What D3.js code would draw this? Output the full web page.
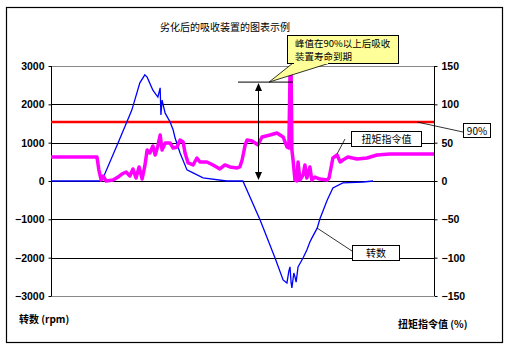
<!DOCTYPE html>
<html>
<head>
<meta charset="utf-8">
<script src="https://cdn.jsdelivr.net/npm/d3@7"></script>
<style>
  body { margin: 0; background: #fff; }
  text { font-family: "Noto Sans CJK SC", "DejaVu Sans", sans-serif; }
  .num { font-family: "Liberation Sans", Arial, sans-serif; font-weight: bold; font-size: 10.5px; }
</style>
</head>
<body>
<div id="chart"></div>
<script>
// rotation speed (rpm), left axis
const speedT = [0, 12.8, 13.6, 17.5, 19.8, 21.1, 23.2, 24.5, 25.1, 26.6, 27.9, 28.5, 28.7, 29.0, 29.8, 31.1, 31.9, 32.4, 33.7, 35.5, 37.1, 39.7, 45.9, 50.1, 54.6, 58.5, 60.6, 61.6, 62.1, 62.4, 62.7, 62.9, 63.4, 63.7, 64.0, 64.5, 65.8, 66.8, 67.6, 68.1, 69.5, 70.2, 72.1, 73.6, 76.2, 81.5, 84.1]
const speedV = [0, 0, 80, 990, 1540, 1850, 2560, 2770, 2710, 2370, 2190, 2430, 1720, 2110, 1770, 1540, 1330, 1120, 730, 290, 210, 80, 0, 0, -1020, -2010, -2580, -2660, -2350, -2240, -2660, -2790, -2400, -2500, -2640, -2240, -2010, -1800, -1590, -1490, -1230, -990, -500, -180, -50, -26, 0]

// torque command (%), right axis
const torqueT = [0, 12.0, 12.5, 13.1, 13.6, 14.4, 16.2, 17.5, 18.5, 19.6, 20.6, 21.4, 22.2, 23.0, 23.8, 24.5, 25.1, 25.8, 26.6, 27.2, 27.9, 28.5, 29.0, 29.8, 31.1, 31.9, 32.9, 33.7, 34.5, 35.0, 35.8, 37.1, 38.1, 38.9, 40.7, 42.3, 44.1, 45.4, 46.7, 48.6, 49.3, 49.9, 50.7, 51.2, 52.5, 53.3, 54.0, 55.1, 57.2, 59.0, 60.6, 61.6, 62.1, 62.4, 62.7, 62.9, 63.2, 63.7, 64.2, 64.5, 65.0, 65.8, 66.3, 66.8, 67.6, 68.1, 68.9, 70.2, 72.1, 72.6, 73.6, 74.7, 75.5, 76.2, 77.5, 79.9, 82.5, 85.1, 88.5, 100]
const torqueV = [31.3, 31.3, 14.3, 1.3, 6.5, 0, 1.3, 5.2, 9.1, 11.7, 6.5, 15.7, 3.9, 18.3, 2.6, 19.6, 40.4, 36.5, 45.7, 33.9, 45.7, 60.0, 40.4, 49.6, 49.6, 43.0, 44.4, 53.5, 50.9, 36.5, 23.5, 20.9, 30.0, 24.8, 24.8, 20.9, 15.7, 20.9, 18.3, 17.0, 18.3, 27.4, 47.0, 53.5, 52.2, 49.6, 47.0, 57.4, 60.0, 62.6, 57.4, 44.4, 43.0, 138, 138, 40.4, 27.4, 1.3, 0, 24.8, 1.3, 7.8, 20.9, 3.9, 18.3, 1.3, 5.2, 2.6, 1.3, 3.9, 30.0, 33.9, 24.8, 27.4, 31.3, 28.7, 30.0, 33.9, 35.2, 35.2]

const leftTicks = [3000, 2000, 1000, 0, -1000, -2000, -3000]
const rightTicks = [150, 100, 50, 0, -50, -100, -150]
const gridValues = [2000, 1000, 0, -1000, -2000]
const limitValue = 77   // 90% line, right axis
const peakValue = 129   // level of the peak marker, right axis

const svg = d3.select("#chart").append("svg")
    .attr("width", 509)
    .attr("height", 354)

const plot = {left: 51, right: 434, top: 66, bottom: 296}

const x = d3.scaleLinear().domain([0, 100]).range([plot.left, plot.right])
const yL = d3.scaleLinear().domain([-3000, 3000]).range([plot.bottom, plot.top])
const yR = d3.scaleLinear().domain([-150, 150]).range([plot.bottom, plot.top])

// outer frame
svg.append("rect")
    .attr("x", 6.5).attr("y", 7.5).attr("width", 496).attr("height", 335)
    .attr("fill", "#fff").attr("stroke", "#000").attr("stroke-width", 1.2)

svg.append("text")
    .attr("x", 225).attr("y", 31)
    .attr("text-anchor", "middle")
    .attr("font-size", 10)
    .text("劣化后的吸收装置的图表示例")

// plot border top/bottom (grey)
svg.append("line").attr("x1", plot.left).attr("x2", plot.right)
    .attr("y1", yL(3000) + 0.5).attr("y2", yL(3000) + 0.5).attr("stroke", "#888")
svg.append("line").attr("x1", plot.left).attr("x2", plot.right)
    .attr("y1", yL(-3000) + 0.5).attr("y2", yL(-3000) + 0.5).attr("stroke", "#888")

// gridlines
svg.append("g").selectAll("line")
    .data(gridValues)
    .join("line")
    .attr("x1", plot.left).attr("x2", plot.right)
    .attr("y1", d => Math.round(yL(d)) + 0.5).attr("y2", d => Math.round(yL(d)) + 0.5)
    .attr("stroke", "#000").attr("stroke-width", 1)

// left axis
const leftAxis = svg.append("g")
    .attr("transform", `translate(${plot.left + 0.5},0)`)
    .call(d3.axisLeft(yL).tickValues(leftTicks).tickSize(3).tickPadding(4).tickFormat(d => d < 0 ? "−" + Math.abs(d) : d))
leftAxis.select(".domain").attr("stroke", "#000").attr("d", `M0,${plot.top}V${plot.bottom}`)
leftAxis.selectAll("text").attr("class", "num").attr("fill", "#000")

// right axis
const rightAxis = svg.append("g")
    .attr("transform", `translate(${plot.right + 0.5},0)`)
    .call(d3.axisRight(yR).tickValues(rightTicks).tickSize(3).tickPadding(4).tickFormat(d => d < 0 ? "−" + Math.abs(d) : d))
rightAxis.select(".domain").attr("stroke", "#000").attr("d", `M0,${plot.top}V${plot.bottom}`)
rightAxis.selectAll("text").attr("class", "num").attr("fill", "#000")

// 90% line
svg.append("line")
    .attr("x1", plot.left).attr("x2", plot.right)
    .attr("y1", yR(limitValue)).attr("y2", yR(limitValue))
    .attr("stroke", "#ff0000").attr("stroke-width", 2.5)

// speed line
const speed = speedT.map((t, i) => [t, speedV[i]])
svg.append("path")
    .datum(speed)
    .attr("fill", "none")
    .attr("stroke", "#0000ff")
    .attr("stroke-width", 1.3)
    .attr("d", d3.line().x(d => x(d[0])).y(d => yL(d[1])))

// torque line
const torque = torqueT.map((t, i) => [t, torqueV[i]])
svg.append("path")
    .datum(torque)
    .attr("fill", "none")
    .attr("stroke", "#ff00ff")
    .attr("stroke-width", 3.5)
    .attr("stroke-linejoin", "round")
    .attr("d", d3.line().x(d => x(d[0])).y(d => yR(d[1])))

// peak marker with double arrow
const arrowX = 258
svg.append("line")
    .attr("x1", 238).attr("x2", 293)
    .attr("y1", yR(peakValue)).attr("y2", yR(peakValue))
    .attr("stroke", "#000")
svg.append("line")
    .attr("x1", arrowX + 0.5).attr("x2", arrowX + 0.5)
    .attr("y1", yR(peakValue) + 2).attr("y2", yR(0) - 2)
    .attr("stroke", "#000")
svg.append("path")
    .attr("d", `M${arrowX + 0.5},${yR(peakValue) + 1}l-3.5,8h7z`)
    .attr("fill", "#000")
svg.append("path")
    .attr("d", `M${arrowX + 0.5},${yR(0) - 1}l-3.5,-8h7z`)
    .attr("fill", "#000")

// yellow callout
svg.append("path")
    .attr("d", `M269,${yR(peakValue)}L293,63L330,63Z`)
    .attr("fill", "#ffff99").attr("stroke", "#000").attr("stroke-width", 0.8)
svg.append("rect")
    .attr("x", 287.5).attr("y", 35.5).attr("width", 111).attr("height", 28)
    .attr("fill", "#ffff99").attr("stroke", "#000").attr("stroke-width", 1)
svg.append("rect")
    .attr("x", 294).attr("y", 62).attr("width", 34).attr("height", 2)
    .attr("fill", "#ffff99")
svg.append("text").attr("x", 295).attr("y", 47).attr("font-size", 9.5)
    .text("峰值在90%以上后吸收")
svg.append("text").attr("x", 295).attr("y", 60).attr("font-size", 9.5)
    .text("装置寿命到期")

// 90% label
svg.append("line").attr("x1", 417).attr("y1", 122).attr("x2", 463).attr("y2", 132)
    .attr("stroke", "#000").attr("stroke-width", 0.8)
svg.append("rect").attr("x", 463.5).attr("y", 123.5).attr("width", 27).attr("height", 14)
    .attr("fill", "#fff").attr("stroke", "#000")
svg.append("text").attr("x", 477).attr("y", 134.5).attr("text-anchor", "middle")
    .attr("font-size", 10).attr("font-family", "Liberation Sans, Arial, sans-serif")
    .text("90%")

// torque label
svg.append("line").attr("x1", 345).attr("y1", 139).attr("x2", 337).attr("y2", 154)
    .attr("stroke", "#000").attr("stroke-width", 0.8)
svg.append("rect").attr("x", 351.5).attr("y", 131.5).attr("width", 70).attr("height", 15)
    .attr("fill", "#fff").attr("stroke", "#000")
svg.append("text").attr("x", 386.5).attr("y", 143).attr("text-anchor", "middle")
    .attr("font-size", 10).text("扭矩指令值")

// speed label
svg.append("line").attr("x1", 352).attr("y1", 251).attr("x2", 317).attr("y2", 228)
    .attr("stroke", "#000").attr("stroke-width", 0.8)
svg.append("rect").attr("x", 352.5).attr("y", 245.5).attr("width", 47).attr("height", 15)
    .attr("fill", "#fff").attr("stroke", "#000")
svg.append("text").attr("x", 376).attr("y", 257).attr("text-anchor", "middle")
    .attr("font-size", 10).text("转数")

// axis titles
svg.append("text").attr("x", 19).attr("y", 323).attr("font-size", 10)
    .attr("font-weight", "bold").text("转数 (rpm)")
svg.append("text").attr("x", 398).attr("y", 328).attr("font-size", 10)
    .attr("font-weight", "bold").text("扭矩指令值 (%)")
</script>
</body>
</html>
